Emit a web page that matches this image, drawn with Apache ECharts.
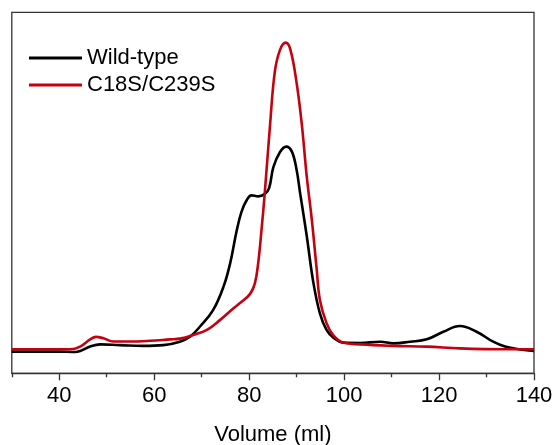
<!DOCTYPE html>
<html>
<head>
<meta charset="utf-8">
<script src="https://cdn.jsdelivr.net/npm/echarts@6/dist/echarts.min.js"></script>
<style>
html,body{margin:0;padding:0;background:#fff;}
#chart{width:554px;height:445px;}
</style>
</head>
<body>
<div id="chart"></div>
<script>
// Elution volume (ml) and relative absorbance for each sample
const wtVolume = [30, 40, 43.3, 44.4, 46.5, 48.6, 52.8, 57.7, 61.9, 65.4, 67.6, 69.6, 72.4, 74.6, 76.0, 77.4, 78.4, 79.5, 80.5, 81.9, 83.3, 84.2, 85.1, 86.5, 87.8, 89.0, 90.0, 90.7, 92.1, 93.5, 94.9, 96.3, 97.7, 99.8, 103.4, 107.6, 110.4, 113.9, 117.4, 120.9, 124.4, 127.9, 131.4, 133.9, 137.1, 140];
const wtSignal = [6.0, 6.0, 5.9, 6.2, 7.4, 8.0, 7.8, 7.6, 7.8, 8.75, 10.2, 12.9, 17.5, 24.0, 30.5, 39.7, 44.8, 48.0, 49.3, 49.0, 49.7, 51.3, 57.1, 61.3, 62.8, 61.4, 56.3, 50.2, 38.3, 25.3, 16.6, 12.0, 9.9, 8.5, 8.4, 8.75, 8.3, 8.75, 9.4, 11.5, 13.1, 11.5, 8.75, 7.4, 6.6, 6.2];
const mutVolume = [30, 42.3, 44.4, 46.5, 47.7, 49.3, 51.4, 54.9, 59.1, 63.3, 65.4, 68.2, 71.1, 73.9, 76.7, 78.4, 80.2, 81.2, 81.9, 82.6, 83.3, 84.4, 85.4, 86.5, 87.7, 88.7, 90.0, 91.1, 92.1, 93.2, 94.2, 94.9, 96.3, 97.7, 99.8, 103.4, 110.4, 117.4, 124.4, 133.9, 140];
const mutSignal = [6.65, 6.65, 7.4, 9.4, 10.1, 9.7, 8.8, 8.8, 9.0, 9.4, 9.6, 10.6, 12.0, 14.8, 18.0, 19.8, 22.0, 24.9, 30.5, 39.7, 50.2, 68.8, 83.5, 89.6, 91.6, 89.6, 80.4, 68.8, 54.9, 42.5, 29.2, 20.3, 13.9, 10.6, 8.5, 8.0, 7.6, 7.4, 6.9, 6.65, 6.65];
const seriesNames = ['Wild-type', 'C18S/C239S'];
const majorTicks = [40, 60, 80, 100, 120, 140];
const minorTicks = [30, 50, 70, 90, 110, 130];
const xAxisTitle = 'Volume (ml)';

const zip = (xs, ys) => xs.map((x, i) => [x, ys[i]]);
const font = 'Liberation Sans, Arial, sans-serif';
const chart = echarts.init(document.getElementById('chart'), null, {renderer: 'canvas'});
chart.setOption({
  animation: false,
  backgroundColor: '#fff',
  grid: {left: 11.8, right: 20, top: 12.3, bottom: 71.7, outerBoundsMode: 'none', containLabel: false,
    show: true, borderColor: '#333', borderWidth: 1.3, backgroundColor: 'transparent'},
  legend: {
    orient: 'vertical', left: 24, top: 42,
    itemWidth: 53, itemHeight: 3, itemGap: 5, icon: 'rect',
    textStyle: {fontFamily: font, fontSize: 22, color: '#000', lineHeight: 22},
    data: seriesNames
  },
  xAxis: [{
    type: 'value', min: 30, max: 140,
    name: xAxisTitle, nameLocation: 'middle', nameGap: 51,
    nameTextStyle: {fontFamily: font, fontSize: 22, color: '#000'},
    axisLine: {show: true, lineStyle: {color: '#333', width: 1.3}},
    axisTick: {show: true, inside: false, length: 7, customValues: majorTicks, lineStyle: {color: '#333', width: 1.3}},
    axisLabel: {customValues: majorTicks, fontFamily: font, fontSize: 22, color: '#000', margin: 12},
    splitLine: {show: false}
  }, {
    type: 'value', min: 30, max: 140, position: 'bottom',
    axisLine: {show: false},
    axisTick: {show: true, inside: false, length: 4, customValues: minorTicks, lineStyle: {color: '#333', width: 1.3}},
    axisLabel: {show: false},
    splitLine: {show: false}
  }],
  yAxis: {
    type: 'value', min: 0, max: 100,
    axisLine: {show: false}, axisTick: {show: false}, axisLabel: {show: false}, splitLine: {show: false}
  },
  series: [{
    name: seriesNames[0], type: 'line', data: zip(wtVolume, wtSignal),
    showSymbol: false, symbol: 'none', smooth: 0.4,
    lineStyle: {color: '#000', width: 2.6}, itemStyle: {color: '#000'}
  }, {
    name: seriesNames[1], type: 'line', data: zip(mutVolume, mutSignal),
    showSymbol: false, symbol: 'none', smooth: 0.4,
    lineStyle: {color: '#c5000f', width: 2.6}, itemStyle: {color: '#c5000f'}
  }]
});
</script>
</body>
</html>
